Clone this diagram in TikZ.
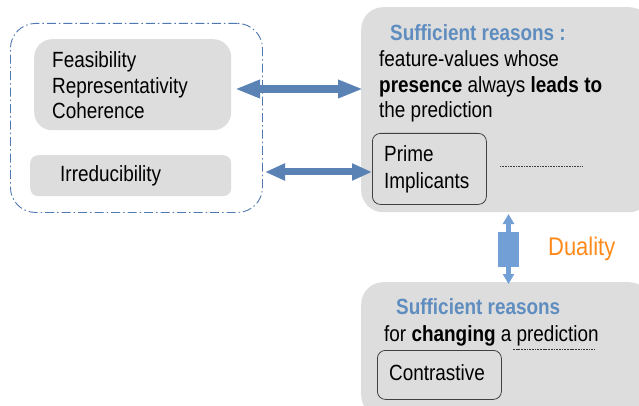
\documentclass[tikz,border=0pt]{standalone}
\usepackage{fontspec}
\setmainfont[FakeStretch=0.86]{Liberation Sans}
\usetikzlibrary{arrows.meta}
\definecolor{boxgray}{HTML}{DDDDDD}
\definecolor{arrblue}{HTML}{5A82B4}
\definecolor{dualblue}{HTML}{72A0D6}
\definecolor{titleblue}{HTML}{5F8DC0}
\definecolor{dashblue}{HTML}{4F79B0}
\definecolor{dualorange}{HTML}{FF8A1A}
\definecolor{innerline}{HTML}{404040}
\tikzset{
  graybox/.style={fill=boxgray, draw=none, inner sep=0pt, anchor=north west},
  outlinebox/.style={draw=innerline, line width=0.8pt, rounded corners=8pt, inner sep=0pt, anchor=north west},
  txt/.style={anchor=base west, inner sep=0pt, font=\fontsize{22}{25}\selectfont},
  ttl/.style={txt, text=titleblue, font=\fontsize{22}{25}\selectfont\bfseries},
  bigarrow/.style={draw=arrblue, line width=8pt, {Triangle[length=25pt,width=17pt]}-{Triangle[length=25pt,width=17pt]}},
  smallarrow/.style={draw=arrblue, line width=7pt, {Triangle[length=20pt,width=16pt]}-{Triangle[length=20pt,width=16pt]}},
}
\begin{document}
\begin{tikzpicture}[x=1pt,y=-1pt]
\useasboundingbox[fill=white] (0,0) rectangle (639,406);
% left dash-dot group
\node[draw=dashblue, line width=0.9pt, dash pattern=on 9pt off 3pt on 1.5pt off 3pt, rounded corners=25pt, inner sep=0pt, anchor=north west, minimum width=252pt, minimum height=189pt] (group) at (10,23) {};
\node[graybox, rounded corners=18pt, minimum width=197pt, minimum height=91pt] (props) at (34,39) {};
\node[graybox, rounded corners=8pt, minimum width=201pt, minimum height=41pt] (irr) at (30,155) {};
\node[txt] (t1) at (52,68) {Feasibility};
\node[txt] (t2) at (52,94) {Representativity};
\node[txt] (t3) at (52,119) {Coherence};
\node[txt] (t4) at (60,182) {Irreducibility};
% right top box
\node[graybox, rounded corners=22pt, minimum width=290pt, minimum height=205pt] (suff) at (361,7) {};
\node[ttl] (s1) at (390,41) {Sufficient reasons :};
\node[txt] (s2) at (379,67) {feature-values whose};
\node[txt] (s3) at (379,93) {\textbf{presence} always \textbf{leads to}};
\node[txt] (s4) at (379,118) {the prediction};
\node[outlinebox, minimum width=114pt, minimum height=71pt] (prime) at (372,133) {};
\node[txt] (p1) at (384,162) {Prime};
\node[txt] (p2) at (384,189) {Implicants};
\coordinate (dotA) at (500,166);
\coordinate (dotB) at (582,166);
\draw[line width=0.6pt, dash pattern=on 0.8pt off 0.8pt, draw=black!75] (dotA) -- (dotB);
% bottom box
\node[graybox, rounded corners=22pt, minimum width=290pt, minimum height=135pt] (contr) at (361,282) {};
\node[ttl] (c1) at (396,314) {Sufficient reasons};
\node[txt] (c2) at (384,341) {for \textbf{changing} a prediction};
\coordinate (dashA) at (513,349);
\coordinate (dashB) at (595,349);
\draw[line width=0.6pt, dash pattern=on 1.8pt off 0.9pt, draw=black!80] (dashA) -- (dashB);
\node[outlinebox, minimum width=124pt, minimum height=49pt] (cbox) at (377,350) {};
\node[txt] (c3) at (389,380) {Contrastive};
% arrows
\coordinate (a1L) at (235,89);
\coordinate (a1R) at (363,89);
\coordinate (a2L) at (265,172);
\coordinate (a2R) at (372,172);
\draw[bigarrow] (a1L) -- (a1R);
\draw[smallarrow] (a2L) -- (a2R);
% duality arrow
\coordinate (dT) at (508.5,214);
\coordinate (dB) at (508.5,284);
\draw[draw=dualblue, line width=5pt, {Triangle[length=10pt,width=11pt]}-{Triangle[length=10pt,width=11pt]}] (dT) -- (dB);
\node[fill=dualblue, inner sep=0pt, minimum width=21pt, minimum height=35pt, anchor=north west] (drect) at (498,231.5) {};
\node[anchor=base west, inner sep=0pt, text=dualorange, font=\fontsize{25.5}{28}\selectfont] (dual) at (548,255) {Duality};
\end{tikzpicture}
\end{document}
